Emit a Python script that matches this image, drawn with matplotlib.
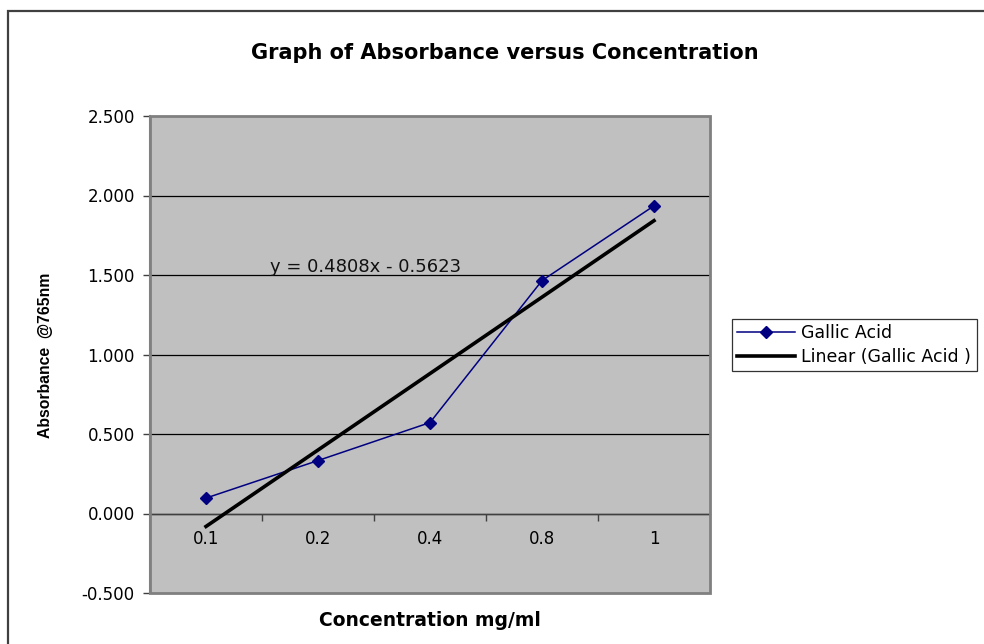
import matplotlib
matplotlib.use("Agg")
import matplotlib.pyplot as plt
from matplotlib.patches import Rectangle

# Gallic acid calibration readings
concentrations = ["0.1", "0.2", "0.4", "0.8", "1"]
absorbance = [0.097, 0.333, 0.572, 1.465, 1.935]

# Linear trendline (fitted against category index 1..n)
trend_slope = 0.4808
trend_intercept = -0.5623

y_ticks = [-0.5, 0.0, 0.5, 1.0, 1.5, 2.0, 2.5]

plt.rcParams["font.family"] = ["DejaVu Sans"]

fig = plt.figure(figsize=(9.84, 6.44), dpi=100)
ax = fig.add_axes([150 / 984, 1 - 593 / 644, 560 / 984, 477 / 644])
ax.set_facecolor("#C0C0C0")

idx = list(range(1, len(concentrations) + 1))

# horizontal gridlines
for t in y_ticks[1:-1]:
    ax.axhline(t, color="black", lw=0.9, zorder=1)

ax.plot(idx, absorbance, color="#000080", lw=1.1, marker="D", markersize=6,
        markerfacecolor="#000080", markeredgecolor="#000080", zorder=3,
        label="Gallic Acid")

trend_x = [idx[0], idx[-1]]
trend_y = [trend_slope * x + trend_intercept for x in trend_x]
ax.plot(trend_x, trend_y, color="black", lw=2.6, zorder=4,
        label="Linear (Gallic Acid )")

ax.text(1.57, 1.55, f"y = {trend_slope}x - {abs(trend_intercept)}",
        fontsize=13, va="center", ha="left", color="#111111", zorder=5)

ax.set_xlim(0.5, len(concentrations) + 0.5)
ax.set_ylim(-0.5, 2.5)

# category axis crosses at zero
ax.spines["bottom"].set_position(("data", 0))
ax.spines["bottom"].set_color("#404040")
ax.spines["bottom"].set_linewidth(1.0)
ax.spines["top"].set_visible(False)
ax.spines["right"].set_visible(False)
ax.spines["left"].set_color("#808080")
ax.spines["left"].set_linewidth(1.5)
ax.add_patch(Rectangle((0, 0), 1, 1, transform=ax.transAxes, fill=False,
                       ec="#808080", lw=2, clip_on=False, zorder=6))

ax.set_xticks(idx)
ax.set_xticklabels(concentrations, fontsize=12)
ax.set_xticks([i + 0.5 for i in idx[:-1]], minor=True)
ax.tick_params(axis="x", which="major", length=0, pad=12)
ax.tick_params(axis="x", which="minor", length=5, width=1, color="#404040",
               direction="out")

ax.set_yticks(y_ticks)
ax.set_yticklabels([f"{t:.3f}" for t in y_ticks], fontsize=12)
ax.tick_params(axis="y", length=5, width=1, color="#404040", direction="out",
               pad=6)

fig.text(505 / 984, 1 - 53 / 644, "Graph of Absorbance versus Concentration",
         ha="center", va="center", fontsize=15, fontweight="bold")
fig.text(430 / 984, 1 - 620 / 644, "Concentration mg/ml",
         ha="center", va="center", fontsize=13.5, fontweight="bold")
fig.text(46 / 984, 1 - 355 / 644, "Absorbance  @765nm", rotation=90,
         ha="center", va="center", fontsize=11.3, fontweight="bold",
         family=["Liberation Sans Narrow", "Liberation Sans", "DejaVu Sans"])

leg = ax.legend(loc="upper left", bbox_to_anchor=(732 / 984, 1 - 319 / 644),
                bbox_transform=fig.transFigure, frameon=True, fancybox=False,
                fontsize=12.5, handlelength=3.3, borderpad=0.3,
                labelspacing=0.35, handletextpad=0.4, borderaxespad=0)
leg.get_frame().set_edgecolor("black")
leg.get_frame().set_linewidth(0.9)

# outer chart border
fig.add_artist(Rectangle((8 / 984, -0.05), 1.1, 1 - 11 / 644 + 0.05,
                         transform=fig.transFigure, fill=False,
                         ec="#404040", lw=1.6))

fig.savefig("out.png", dpi=100, facecolor="white")
